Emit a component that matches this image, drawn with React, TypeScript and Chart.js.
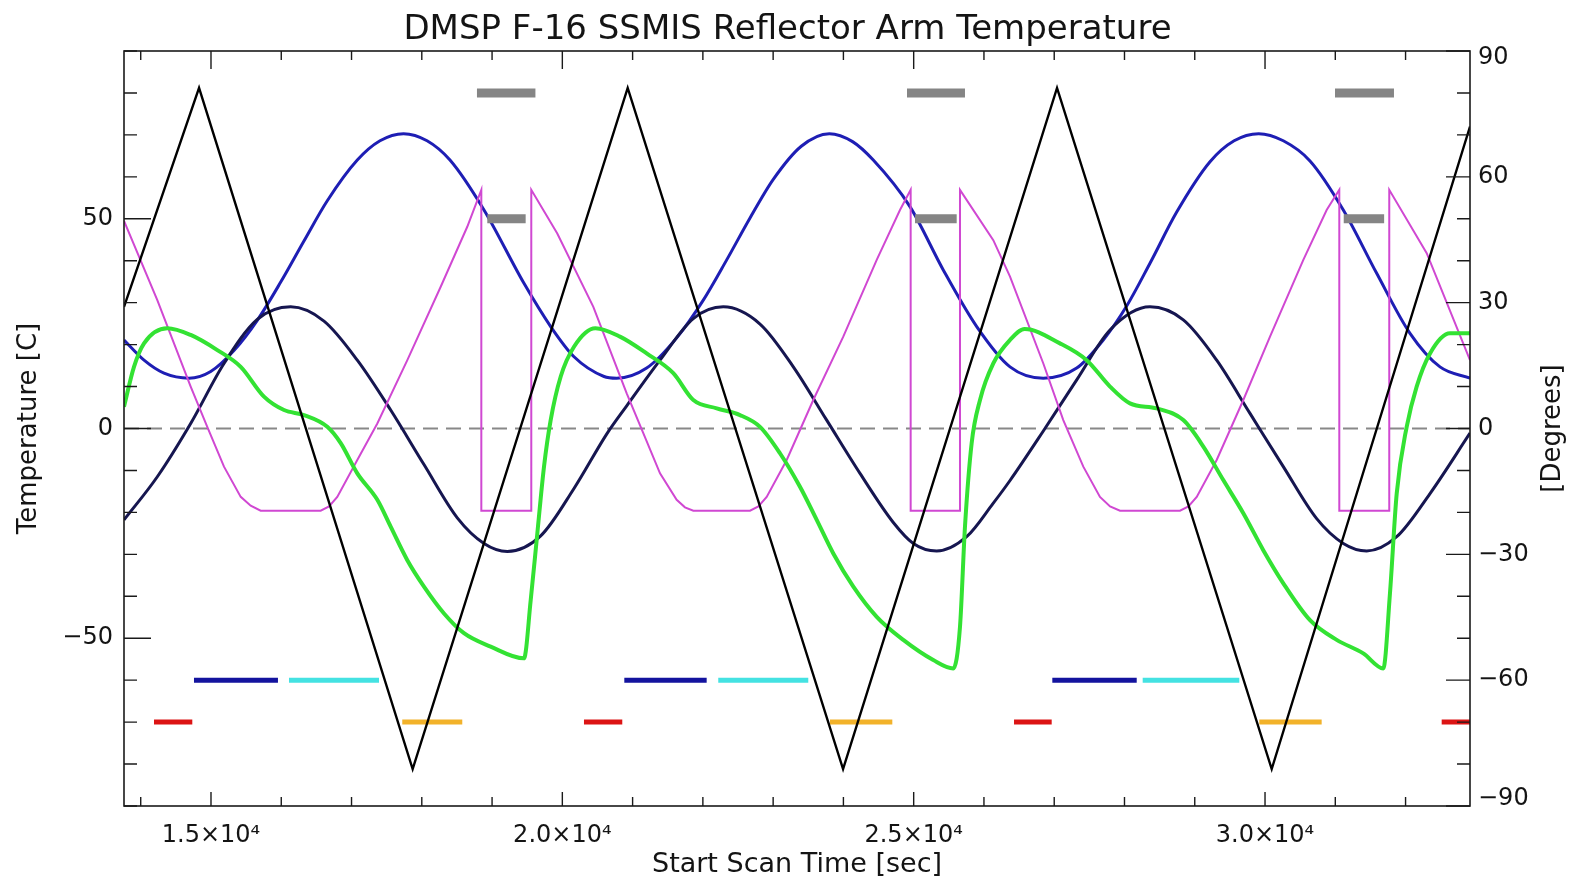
import React, { useEffect, useRef } from 'react';
import { Chart, registerables } from 'chart.js';

Chart.register(...registerables);

// ---------- text ----------
const TITLE = 'DMSP F-16 SSMIS Reflector Arm Temperature';
const X_TITLE = 'Start Scan Time [sec]';
const Y_TITLE = 'Temperature [C]';
const Y1_TITLE = '[Degrees]';

// ---------- axis ranges and ticks ----------
const X_MIN = 13762;
const X_MAX = 32917;
const Y_MIN = -90;
const Y_MAX = 90;
const X_TICKS = [14000, 15000, 16000, 17000, 18000, 19000, 20000, 21000, 22000, 23000, 24000,
  25000, 26000, 27000, 28000, 29000, 30000, 31000, 32000];
const X_LABELED = [15000, 20000, 25000, 30000];
const Y_TICKS = [-90, -80, -70, -60, -50, -40, -30, -20, -10, 0, 10, 20, 30, 40, 50, 60, 70, 80, 90];
const Y_LABELED = [-50, 0, 50];
const Y1_LABELED = [-90, -60, -30, 0, 30, 60, 90];

// ---------- series: [time (s), value] ----------
const latitude: [number, number][] = [
  [13762, 29], [14830, 81.2], [17870, -81.2], [20930, 81.2], [23995, -81.2],
  [27040, 81.2], [30095, -81.2], [32917, 72],
];

const armTempBlue: [number, number][] = [
  [13762, 21.1], [14047, 16.3], [14331, 13.2], [14687, 12], [14996, 13.6], [15327, 18.6],
  [15659, 25.8], [15992, 34.9], [16323, 44.7], [16655, 54.3], [17082, 64], [17405, 68.6],
  [17740, 70.3], [18075, 68.6], [18401, 64], [18885, 52.1], [19454, 34.6], [19834, 24.3],
  [20166, 17.1], [20593, 12.4], [20774, 12], [21200, 14.4], [21627, 21.6], [22006, 30.6],
  [22339, 40.2], [22671, 50.2], [23002, 59.4], [23400, 67.3], [23800, 70.3], [24130, 68.4],
  [24425, 64], [24947, 52.9], [25421, 37.8], [25897, 24.3], [26371, 14.7], [26845, 12],
  [27320, 14.4], [27698, 21.1], [28031, 29.2], [28363, 39.4], [28743, 51.6], [29217, 63.6],
  [29560, 68.6], [29910, 70.3], [30260, 68.6], [30640, 63.8], [31114, 52.1], [31589, 37],
  [32063, 22.7], [32490, 14.7], [32917, 12],
];

const armTempNavy: [number, number][] = [
  [13762, -21.8], [14236, -11.5], [14711, 1.2], [15185, 15.5], [15659, 26], [16134, 29],
  [16608, 25.6], [17082, 16.3], [17557, 4.4], [18031, -8.6], [18505, -21.3], [18885, -27.4],
  [19217, -29.3], [19692, -25.6], [20166, -14.3], [20640, -1.1], [20916, 5.4], [21390, 16.3],
  [21864, 26.2], [22291, 29], [22813, 24.9], [23287, 14.7], [23762, 2], [24236, -10.7],
  [24710, -22.4], [24995, -27.4], [25327, -29.2], [25754, -25.8], [26133, -17.8], [26371, -12.4],
  [26845, -0.6], [27320, 11.6], [27794, 23.5], [28363, 29], [28837, 25.9], [29312, 16.3],
  [29786, 3.6], [30260, -9.1], [30735, -21.5], [31114, -27.4], [31447, -29.2], [31874, -25.8],
  [32348, -15.5], [32917, -1.1],
];

const sunAngle: [number, number][] = [
  [13762, 49.5], [14236, 30.6], [14711, 10], [14947, 0.4], [15185, -9.1], [15423, -16.3],
  [15565, -18.4], [15707, -19.6], [16561, -19.6], [16680, -18.6], [16797, -16.3], [17082, -7.5],
  [17367, 1.2], [17794, 16.3], [18269, 33.8], [18647, 48.1], [18847, 56.9], [18847, -19.6],
  [19558, -19.6], [19558, 56.9], [19928, 46.5], [20441, 29], [20916, 8.4], [21152, -1.1],
  [21390, -10.7], [21627, -17], [21745, -18.8], [21864, -19.6], [22671, -19.6], [22790, -18.6],
  [22908, -16.3], [23193, -7.5], [23571, 6.8], [23998, 21.9], [24474, 40.2], [24805, 52.1],
  [24957, 56.9], [24957, -19.6], [25659, -19.6], [25659, 56.9], [26133, 44.9], [26371, 36.2],
  [26845, 15.5], [27129, 2], [27414, -9.1], [27651, -16.3], [27795, -18.6], [27936, -19.6],
  [28790, -19.6], [28910, -18.6], [29028, -16.3], [29312, -7.5], [29691, 6.8], [30071, 21.9],
  [30545, 40.2], [30877, 52.1], [31057, 56.9], [31057, -19.6], [31768, -19.6], [31768, 56.9],
  [32301, 41.8], [32917, 16.3],
];

const armTempGreen: [number, number][] = [
  [13762, 5.2], [13904, 14.7], [14047, 20.3], [14378, 23.9], [14711, 22.3], [15090, 18.7],
  [15423, 14.7], [15754, 7.6], [16039, 4.4], [16323, 3.2], [16655, 0.4], [16846, -3.5],
  [17082, -10.7], [17367, -17], [17557, -23.4], [17794, -31.4], [18031, -37.7], [18316, -44.1],
  [18600, -48.8], [18980, -52], [19454, -54.8], [19550, -40.9], [19644, -25], [19739, -9.1],
  [19834, 2], [19977, 12.4], [20166, 19.5], [20470, 23.9], [20820, 21.9], [21200, 17.9],
  [21579, 13.2], [21864, 6.8], [22197, 4.8], [22528, 3.2], [22813, 0.4], [23097, -5.9],
  [23382, -13.9], [23620, -21.8], [23856, -29.8], [24141, -37.7], [24474, -44.9], [24852, -50.4],
  [25279, -55.2], [25564, -57.2], [25659, -47.3], [25730, -23.4], [25825, -3.5], [25944, 6.8],
  [26133, 15.5], [26371, 21.1], [26580, 23.7], [27082, 20.3], [27462, 16.3], [27794, 10],
  [28078, 6], [28458, 4.8], [28837, 2], [29122, -4.3], [29406, -12.3], [29691, -20.2],
  [29975, -29], [30260, -36.9], [30640, -45.7], [31020, -50.4], [31398, -53.6], [31683, -57.2],
  [31778, -39.3], [31874, -15.5], [32016, 0.4], [32158, 10], [32348, 17.9], [32632, 22.7],
  [32917, 22.7],
];

// ---------- event bars: [start, end] times, drawn at a level ----------
const GREY_HIGH_LEVEL = 80;
const greyHighBars: [number, number][] = [[18785, 19617], [24905, 25730], [30996, 31835]];
const GREY_LOW_LEVEL = 50;
const greyLowBars: [number, number][] = [[18932, 19478], [25019, 25612], [31120, 31695]];
const UPPER_EVENT_LEVEL = -60;
const darkBlueBars: [number, number][] = [[14758, 15953], [20882, 22054], [26973, 28174]];
const cyanBars: [number, number][] = [[16110, 17391], [22219, 23500], [28259, 29634]];
const LOWER_EVENT_LEVEL = -70;
const redBars: [number, number][] = [[14189, 14734], [20308, 20853], [26428, 26964], [32514, 32917]];
const orangeBars: [number, number][] = [[17722, 18576], [23809, 24696], [29918, 30806]];
const zeroLine: [number, number][] = [[X_MIN, 0], [X_MAX, 0]];

const FONT = "'DejaVu Sans', 'Liberation Sans', sans-serif";
const TEXT = '#141414';

const toXY = (pts: [number, number][]) => pts.map(([x, y]) => ({ x, y }));
const segments = (pairs: [number, number][], level: number) => {
  const out: { x: number; y: number | null }[] = [];
  pairs.forEach(([a, b]) => {
    out.push({ x: a, y: level }, { x: b, y: level }, { x: b, y: null });
  });
  return out;
};
const signed = (v: number) => (v < 0 ? '\u2212' + Math.abs(v) : String(v));
const setTicks = (values: number[]) => (scale: any) => {
  scale.ticks = values.map((value) => ({ value }));
};

const frameAndTicks = {
  id: 'frameAndTicks',
  afterDatasetsDraw(chart: any) {
    const { ctx, chartArea: a, scales } = chart;
    ctx.save();
    ctx.strokeStyle = '#1a1a1a';
    ctx.lineWidth = 1.6;
    ctx.strokeRect(a.left, a.top, a.right - a.left, a.bottom - a.top);
    ctx.lineWidth = 1.4;
    ctx.beginPath();
    scales.x.ticks.forEach((t: any) => {
      const px = scales.x.getPixelForValue(t.value);
      const major = X_LABELED.includes(t.value);
      ctx.moveTo(px, a.bottom);
      ctx.lineTo(px, a.bottom - (major ? 14 : 9));
      ctx.moveTo(px, a.top);
      ctx.lineTo(px, a.top + (major ? 18 : 9));
    });
    scales.y.ticks.forEach((t: any) => {
      const py = scales.y.getPixelForValue(t.value);
      const major = Y_LABELED.includes(t.value);
      ctx.moveTo(a.left, py);
      ctx.lineTo(a.left + (major ? 27 : 13), py);
    });
    scales.y1.ticks.forEach((t: any) => {
      const py = scales.y1.getPixelForValue(t.value);
      const major = Y1_LABELED.includes(t.value);
      ctx.moveTo(a.right, py);
      ctx.lineTo(a.right - (major ? 24 : 13), py);
    });
    ctx.stroke();
    ctx.fillStyle = TEXT;
    ctx.font = `26px ${FONT}`;
    ctx.textAlign = 'center';
    ctx.textBaseline = 'middle';
    ctx.translate(chart.width - 22, (a.top + a.bottom) / 2);
    ctx.rotate(-Math.PI / 2);
    ctx.fillText(Y1_TITLE, 0, 0);
    ctx.restore();
  },
};

export default function App() {
  const ref = useRef<HTMLCanvasElement | null>(null);

  useEffect(() => {
    if (!ref.current) return;
    const line = (data: any[], color: string, width: number, extra: any = {}) => ({
      data,
      borderColor: color,
      backgroundColor: color,
      borderWidth: width,
      pointRadius: 0,
      fill: false,
      spanGaps: false,
      tension: 0,
      yAxisID: 'y',
      ...extra,
    });
    const chart = new Chart(ref.current, {
      type: 'line',
      data: {
        datasets: [
          line(toXY(latitude), '#000000', 2.4, { yAxisID: 'y1' }),
          line(segments(greyHighBars, GREY_HIGH_LEVEL), '#858585', 9),
          line(segments(greyLowBars, GREY_LOW_LEVEL), '#858585', 9),
          line(segments(darkBlueBars, UPPER_EVENT_LEVEL), '#13139e', 5),
          line(segments(cyanBars, UPPER_EVENT_LEVEL), '#44e2e2', 5),
          line(segments(redBars, LOWER_EVENT_LEVEL), '#dc1414', 5),
          line(segments(orangeBars, LOWER_EVENT_LEVEL), '#f2b22a', 5),
          line(toXY(armTempGreen), '#33e233', 4, { cubicInterpolationMode: 'monotone' }),
          line(toXY(sunAngle), '#d048d2', 2),
          line(toXY(armTempNavy), '#161650', 3, { cubicInterpolationMode: 'monotone' }),
          line(toXY(armTempBlue), '#1e1eb4', 3, { cubicInterpolationMode: 'monotone' }),
          line(toXY(zeroLine), '#888888', 2, { borderDash: [15, 8] }),
        ],
      },
      options: {
        animation: false,
        responsive: false,
        layout: { padding: 0 },
        events: [],
        plugins: {
          legend: { display: false },
          tooltip: { enabled: false },
          title: {
            display: true,
            text: TITLE,
            color: TEXT,
            font: { family: FONT, size: 34, weight: 'normal', lineHeight: 1 },
            padding: { top: 13, bottom: 4 },
          },
        },
        scales: {
          x: {
            type: 'linear',
            position: 'bottom',
            min: X_MIN,
            max: X_MAX,
            afterBuildTicks: setTicks(X_TICKS),
            grid: { display: false, drawTicks: false },
            border: { display: false },
            ticks: {
              autoSkip: false,
              maxRotation: 0,
              minRotation: 0,
              padding: 15,
              color: TEXT,
              font: { family: FONT, size: 24 },
              callback: (v: any) =>
                X_LABELED.includes(Number(v)) ? `${(Number(v) / 10000).toFixed(1)}×10⁴` : '',
            },
            title: {
              display: true,
              text: X_TITLE,
              color: TEXT,
              font: { family: FONT, size: 27 },
              padding: { top: 0, bottom: 2 },
            },
            afterFit: (s: any) => { s.height = 77; },
          },
          y: {
            type: 'linear',
            position: 'left',
            min: Y_MIN,
            max: Y_MAX,
            afterBuildTicks: setTicks(Y_TICKS),
            grid: { display: false, drawTicks: false },
            border: { display: false },
            ticks: {
              autoSkip: false,
              padding: 11,
              color: TEXT,
              font: { family: FONT, size: 24 },
              callback: (v: any) => (Y_LABELED.includes(Number(v)) ? signed(Number(v)) : ''),
            },
            title: {
              display: true,
              text: Y_TITLE,
              color: TEXT,
              font: { family: FONT, size: 26 },
              padding: { top: 14, bottom: 0 },
            },
            afterFit: (s: any) => { s.width = 124; },
          },
          y1: {
            type: 'linear',
            position: 'right',
            min: Y_MIN,
            max: Y_MAX,
            afterBuildTicks: setTicks(Y_TICKS),
            grid: { display: false, drawTicks: false },
            border: { display: false },
            ticks: {
              autoSkip: false,
              padding: 8,
              color: TEXT,
              font: (c: any) => ({
                family: FONT,
                size: 24,
                lineHeight: c && c.tick && Math.abs(c.tick.value) === Y_MAX ? 0.6 : 1.2,
              }),
              callback: (v: any) => {
                const n = Number(v);
                if (!Y1_LABELED.includes(n)) return '';
                // end labels are kept inside the frame, as in the original plot
                if (n === Y_MAX) return ['', signed(n)];
                if (n === Y_MIN) return [signed(n), ''];
                return signed(n);
              },
            },
            afterFit: (s: any) => { s.width = 105; },
          },
        },
      } as any,
      plugins: [frameAndTicks],
    });
    return () => chart.destroy();
  }, []);

  return (
    <div style={{ position: 'fixed', left: 0, top: 0, width: 1575, height: 883, background: '#ffffff' }}>
      <canvas ref={ref} width={1575} height={883} style={{ display: 'block' }} />
    </div>
  );
}
